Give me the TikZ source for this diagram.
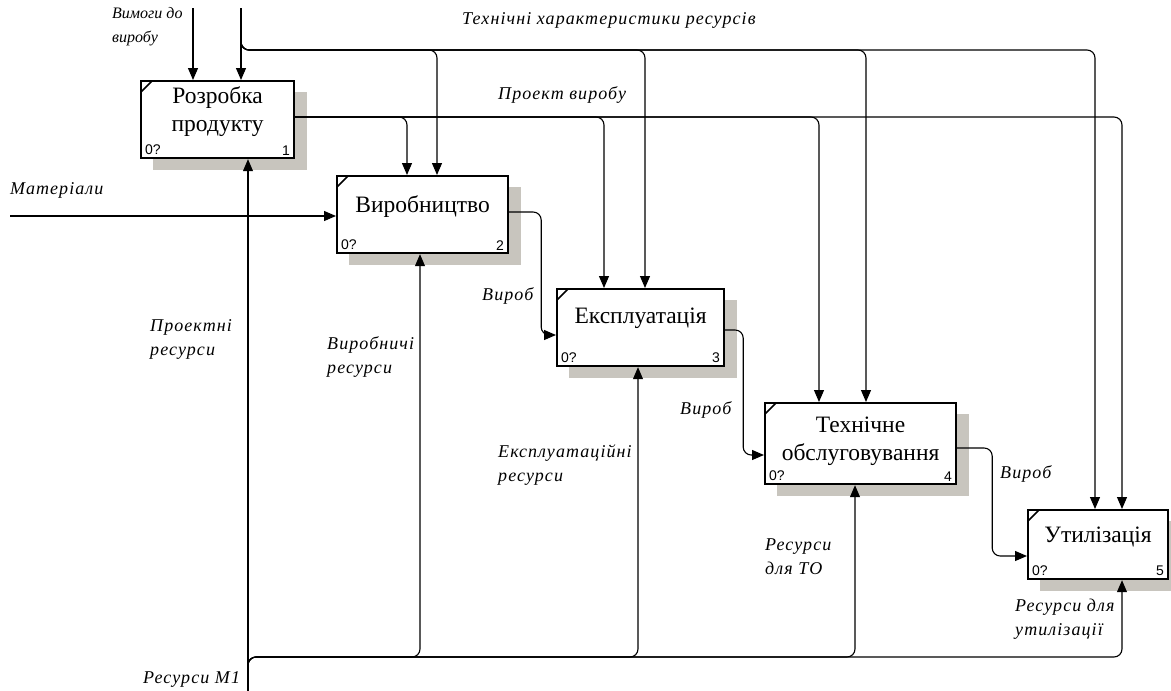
\documentclass[tikz,border=0pt]{standalone}
\usepackage{fontspec}
\setmainfont{Liberation Serif}
\newfontfamily\numfont{Liberation Sans}
\newfontfamily\lblfont{Liberation Serif}[LetterSpace=6]
\usepackage{xcolor}
\usetikzlibrary{arrows, arrows.meta}
\usetikzlibrary{positioning}
\usetikzlibrary{calc}
\pgfdeclarelayer{bg}
\pgfsetlayers{bg,main}
\definecolor{shadowgray}{RGB}{200,197,190}

\tikzset{
	box/.style={draw, fill=white, line width=2.2pt, inner sep=0pt, anchor=north west},
	boxtitle/.style={inner sep=0pt, align=center, font=\fontsize{23.5}{28}\selectfont},
	boxnum/.style={inner sep=0pt, font=\numfont\fontsize{14}{14}\selectfont},
	flow/.style={line width=1.1pt, rounded corners=8pt, -{Triangle[length=12pt, width=10pt]}},
	lbl/.style={inner sep=0pt, anchor=north west, align=left, font=\lblfont\itshape\fontsize{18}{24}\selectfont}
}

\begin{document}
\begin{tikzpicture}[x=1pt, y=-1pt]
			\useasboundingbox (0,0) rectangle (1171,691);

			% activity boxes
			\foreach \iBox/\bX/\bY/\bW/\bH/\bUp/\bText in {1/140/80/153/77/8/{Розробка\\продукту}, 2/336/175/171/77/8/Виробництво, 3/556/288/167/77/9/Експлуатація, 4/764/402/191/81/2/{Технічне\\обслуговування}, 5/1027/509/140/69/8/Утилізація}
			{
				\node[box, minimum width=\bW, minimum height=\bH] (box\iBox) at (\bX,\bY) {};
				\begin{pgfonlayer}{bg}
					\fill[shadowgray] (\bX+13,\bY+12) rectangle (\bX+\bW+14,\bY+\bH+13);
				\end{pgfonlayer}
				\node[boxtitle] (title\iBox) at ([shift={(0,-\bUp)}]box\iBox.center) {\bText};
				\node[boxnum, anchor=south west] (zero\iBox) at ([shift={(5,-4)}]box\iBox.south west) {0?};
				\node[boxnum, anchor=south east] (num\iBox) at ([shift={(-5,-4)}]box\iBox.south east) {\iBox};
				\draw[line width=1.6pt] ([shift={(1,12)}]box\iBox.north west) -- ([shift={(12,1)}]box\iBox.north west);
			}

			% arrow points on the boxes
			\coordinate (b1t1) at ([shift={(53,0)}]box1.north west);
			\coordinate (b1t2) at ([shift={(101,0)}]box1.north west);
			\coordinate (b1b) at ([shift={(108,0)}]box1.south west);
			\coordinate (b1r) at ([shift={(0,37)}]box1.north east);
			\coordinate (b2t1) at ([shift={(71,0)}]box2.north west);
			\coordinate (b2t2) at ([shift={(101,0)}]box2.north west);
			\coordinate (b2b) at ([shift={(84,0)}]box2.south west);
			\coordinate (b2l) at ([shift={(0,41)}]box2.north west);
			\coordinate (b2r) at ([shift={(0,37)}]box2.north east);
			\coordinate (b3t1) at ([shift={(48,0)}]box3.north west);
			\coordinate (b3t2) at ([shift={(89,0)}]box3.north west);
			\coordinate (b3b) at ([shift={(82,0)}]box3.south west);
			\coordinate (b3l) at ([shift={(0,47)}]box3.north west);
			\coordinate (b3r) at ([shift={(0,42)}]box3.north east);
			\coordinate (b4t1) at ([shift={(55,0)}]box4.north west);
			\coordinate (b4t2) at ([shift={(102,0)}]box4.north west);
			\coordinate (b4b) at ([shift={(91,0)}]box4.south west);
			\coordinate (b4l) at ([shift={(0,53)}]box4.north west);
			\coordinate (b4r) at ([shift={(0,46)}]box4.north east);
			\coordinate (b5t1) at ([shift={(68,0)}]box5.north west);
			\coordinate (b5t2) at ([shift={(95,0)}]box5.north west);
			\coordinate (b5b) at ([shift={(95,0)}]box5.south west);
			\coordinate (b5l) at ([shift={(0,47)}]box5.north west);

			% free ends and buses
			\coordinate (in1) at (193,8);
			\coordinate (in2) at (241,8);
			\coordinate (mat) at (10,216);
			\coordinate (m1) at (248,691);
			\coordinate (tbus) at (0,50);
			\coordinate (rbus) at (0,657);

			% inputs and controls
			\draw[flow] (in1) -- (b1t1);
			\draw[flow] (in2) -- (b1t2);
			\draw[flow] (mat) -- (b2l);
			\foreach \iEnd in {b2t2, b3t2, b4t2, b5t1}
			{
				\draw[flow] (in2) |- (\iEnd |- tbus) -- (\iEnd);
			}
			\foreach \iEnd in {b2t1, b3t1, b4t1, b5t2}
			{
				\draw[flow] (b1r) -| (\iEnd);
			}

			% product flow
			\draw[flow] (b2r) -- ++(32,0) |- (b3l);
			\draw[flow] (b3r) -- ++(18,0) |- (b4l);
			\draw[flow] (b4r) -- ++(35,0) |- (b5l);

			% mechanisms
			\draw[flow] (m1) -- (b1b);
			\foreach \iEnd in {b2b, b3b, b4b, b5b}
			{
				\draw[flow] (m1) |- (\iEnd |- rbus) -- (\iEnd);
			}

			% labels
			\node[lbl, font=\itshape\fontsize{16}{24}\selectfont] (lreq) at (112,7) {Вимоги до\\виробу};
			\node[lbl] (ltech) at (462,12) {Технічні характеристики ресурсів};
			\node[lbl] (lproj) at (498,86) {Проект виробу};
			\node[lbl] (lmat) at (10,182) {Матеріали};
			\node[lbl] (lout2) at (482,287) {Вироб};
			\node[lbl] (lout3) at (680,401) {Вироб};
			\node[lbl] (lout4) at (1000,465) {Вироб};
			\node[lbl] (lres1) at (150,319) {Проектні\\ресурси};
			\node[lbl] (lres2) at (327,336) {Виробничі\\ресурси};
			\node[lbl] (lres3) at (498,444) {Експлуатаційні\\ресурси};
			\node[lbl] (lres4) at (765,539) {Ресурси\\для ТО};
			\node[lbl] (lres5) at (1015,599) {Ресурси для\\утилізації};
			\node[lbl] (lm1) at (143,671) {Ресурси М1};
		\end{tikzpicture}
\end{document}
